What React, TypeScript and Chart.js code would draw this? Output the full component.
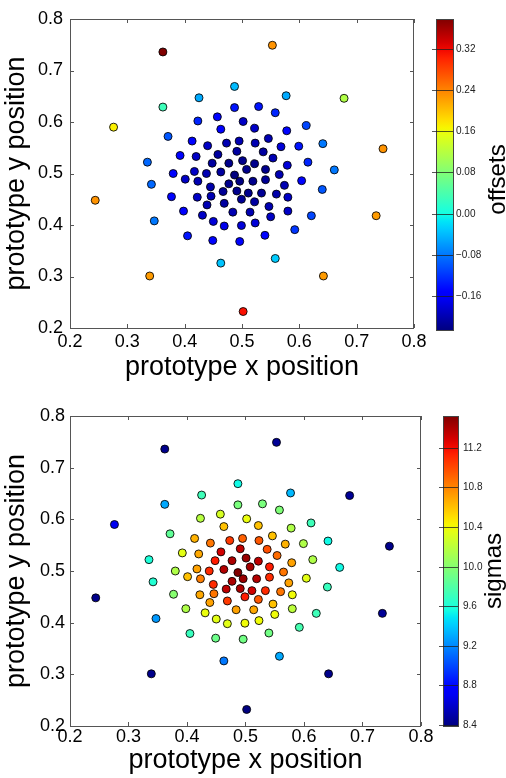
import React, { useEffect, useRef } from 'react';
import { Chart, registerables } from 'chart.js';

Chart.register(...registerables);

const FONT = '"Liberation Sans", Arial, Helvetica, sans-serif';

// prototype positions (shared by both panels)
const POS_X = [
  0.362, 0.553, 0.276, 0.678, 0.746, 0.244, 0.734, 0.339, 0.642, 0.502,
  0.487, 0.425, 0.577, 0.362, 0.335, 0.342, 0.347, 0.463, 0.558, 0.661,
  0.641, 0.640, 0.621, 0.612, 0.592, 0.371,
  0.487, 0.529, 0.558, 0.457, 0.423, 0.502, 0.463, 0.522, 0.578, 0.546,
  0.495, 0.473, 0.523, 0.413, 0.440, 0.568, 0.599, 0.537, 0.491, 0.392,
  0.420, 0.458, 0.554, 0.501, 0.615, 0.448, 0.477, 0.522, 0.579, 0.508,
  0.541, 0.380, 0.417, 0.438, 0.463, 0.487, 0.565, 0.401, 0.423, 0.496,
  0.519, 0.541, 0.604, 0.477, 0.574, 0.445, 0.467, 0.491, 0.511, 0.534,
  0.560, 0.377, 0.422, 0.446, 0.580, 0.499, 0.439, 0.522, 0.469, 0.547,
  0.398, 0.431, 0.484, 0.514, 0.580, 0.550, 0.450, 0.523, 0.469, 0.499,
  0.405, 0.449, 0.496, 0.540,
];
const POS_Y = [
  0.736, 0.749, 0.590, 0.646, 0.548, 0.448, 0.418, 0.301, 0.301, 0.232,
  0.669, 0.647, 0.651, 0.629, 0.522, 0.479, 0.408, 0.326, 0.335, 0.507,
  0.558, 0.469, 0.418, 0.593, 0.391, 0.572,
  0.628, 0.630, 0.618, 0.610, 0.602, 0.601, 0.586, 0.588, 0.583, 0.568,
  0.563, 0.559, 0.559, 0.563, 0.554, 0.552, 0.553, 0.542, 0.543, 0.535,
  0.533, 0.537, 0.530, 0.525, 0.522, 0.520, 0.520, 0.519, 0.516, 0.508,
  0.508, 0.500, 0.504, 0.500, 0.503, 0.497, 0.498, 0.489, 0.485, 0.485,
  0.485, 0.488, 0.486, 0.480, 0.477, 0.474, 0.465, 0.466, 0.462, 0.462,
  0.460, 0.455, 0.454, 0.456, 0.454, 0.450, 0.439, 0.445, 0.442, 0.436,
  0.427, 0.419, 0.425, 0.425, 0.427, 0.416, 0.407, 0.404, 0.398, 0.399,
  0.379, 0.370, 0.368, 0.380,
];
const OFFSETS = [
  0.379, 0.23, 0.17, 0.115, 0.23, 0.23, 0.225, 0.225, 0.225, 0.315,
  -0.04, -0.05, -0.05, 0.03, -0.09, -0.09, -0.08, -0.035, -0.03, -0.08,
  -0.08, -0.10, -0.11, -0.11, -0.12, -0.10,
  -0.14, -0.14, -0.13, -0.15, -0.13, -0.19, -0.16, -0.19, -0.15, -0.20,
  -0.20, -0.20, -0.20, -0.15, -0.19, -0.18, -0.14, -0.21, -0.21, -0.15,
  -0.19, -0.21, -0.20, -0.22, -0.13, -0.21, -0.22, -0.22, -0.18, -0.22,
  -0.22, -0.15, -0.19, -0.20, -0.21, -0.227, -0.20, -0.19, -0.20, -0.225,
  -0.22, -0.215, -0.15, -0.22, -0.20, -0.205, -0.215, -0.22, -0.22, -0.215,
  -0.205, -0.15, -0.19, -0.20, -0.19, -0.215, -0.20, -0.21, -0.21, -0.20,
  -0.16, -0.19, -0.20, -0.20, -0.19, -0.19, -0.18, -0.18, -0.17, -0.18,
  -0.14, -0.15, -0.15, -0.15,
];
const SIGMAS = [
  8.42, 8.45, 8.7, 8.45, 8.42, 8.42, 8.45, 8.42, 8.42, 8.39,
  9.55, 9.72, 9.35, 9.3, 9.6, 9.62, 9.25, 9.15, 9.3, 9.55,
  9.55, 9.7, 9.72, 9.72, 9.75, 9.85,
  9.95, 9.95, 9.97, 10.3, 10.18, 10.38, 10.6, 10.6, 10.15, 10.6,
  10.92, 11.05, 10.95, 10.65, 10.85, 10.65, 10.15, 10.98, 11.35, 10.35,
  10.68, 11.3, 10.88, 11.45, 10.15, 11.15, 11.4, 11.35, 10.7, 11.42,
  11.15, 10.15, 10.7, 11.1, 11.38, 11.52, 10.85, 10.6, 10.82, 11.45,
  11.38, 11.1, 10.35, 11.4, 10.7, 11.1, 11.35, 11.4, 11.3, 11.1,
  10.85, 10.0, 10.68, 10.85, 10.4, 11.15, 10.7, 10.95, 11.05, 10.6,
  10.15, 10.38, 10.7, 10.68, 10.2, 10.4, 10.35, 10.4, 10.35, 10.4,
  9.7, 9.9, 9.92, 9.92,
];

const AXIS_TICKS = [0.2, 0.3, 0.4, 0.5, 0.6, 0.7, 0.8];
const OFFSET_TICKS = [-0.16, -0.08, 0.0, 0.08, 0.16, 0.24, 0.32];
const SIGMA_TICKS = [8.4, 8.8, 9.2, 9.6, 10.0, 10.4, 10.8, 11.2];

const X_TITLE = 'prototype x position';
const Y_TITLE = 'prototype y position';

// matplotlib "jet" colormap
const JET_R: [number, number][] = [[0, 0], [0.35, 0], [0.66, 1], [0.89, 1], [1, 0.5]];
const JET_G: [number, number][] = [[0, 0], [0.125, 0], [0.375, 1], [0.64, 1], [0.91, 0], [1, 0]];
const JET_B: [number, number][] = [[0, 0.5], [0.11, 1], [0.34, 1], [0.65, 0], [1, 0]];

function seg(pts: [number, number][], t: number): number {
  for (let i = 1; i < pts.length; i++) {
    if (t <= pts[i][0]) {
      const [x0, y0] = pts[i - 1];
      const [x1, y1] = pts[i];
      return y0 + ((y1 - y0) * (t - x0)) / (x1 - x0);
    }
  }
  return pts[pts.length - 1][1];
}

function jet(t: number): string {
  const c = Math.max(0, Math.min(1, t));
  const r = Math.round(seg(JET_R, c) * 255);
  const g = Math.round(seg(JET_G, c) * 255);
  const b = Math.round(seg(JET_B, c) * 255);
  return `rgb(${r},${g},${b})`;
}

function fmtTick(v: number, digits: number): string {
  const s = Math.abs(v).toFixed(digits);
  return v < -1e-9 ? '\u2212' + s : s;
}

const framePlugin = {
  id: 'frameAndBar',
  afterDraw(chart: any, _args: any, opts: any) {
    const { ctx, chartArea: a, scales } = chart;
    const xs = scales.x;
    const ys = scales.y;
    ctx.save();
    ctx.strokeStyle = '#555';
    ctx.lineWidth = 1;
    const line = (x1: number, y1: number, x2: number, y2: number) => {
      ctx.beginPath();
      ctx.moveTo(x1, y1);
      ctx.lineTo(x2, y2);
      ctx.stroke();
    };
    const L = 4;
    for (const v of AXIS_TICKS) {
      const px = Math.round(xs.getPixelForValue(v)) + 0.5;
      line(px, a.bottom, px, a.bottom - L);
      line(px, a.top, px, a.top + L);
      const py = Math.round(ys.getPixelForValue(v)) + 0.5;
      line(a.left, py, a.left + L, py);
      line(a.right, py, a.right - L, py);
    }
    ctx.strokeRect(Math.round(a.left) + 0.5, Math.round(a.top) + 0.5,
      Math.round(a.right - a.left) - 1, Math.round(a.bottom - a.top));

    // colorbar
    const values: number[] = opts.values;
    const vmin = Math.min(...values);
    const vmax = Math.max(...values);
    const bl = a.right + opts.gap;
    const br = bl + opts.width;
    const bt = a.top;
    const bb = a.bottom + opts.extraBottom;
    const grad = ctx.createLinearGradient(0, bb, 0, bt);
    for (let i = 0; i <= 40; i++) grad.addColorStop(i / 40, jet(i / 40));
    ctx.fillStyle = grad;
    ctx.fillRect(bl, bt, br - bl, bb - bt);
    ctx.strokeStyle = '#444';
    ctx.strokeRect(Math.round(bl) + 0.5, Math.round(bt) + 0.5, Math.round(br - bl), Math.round(bb - bt));
    const toPx = (v: number) => bb - ((v - vmin) / (vmax - vmin)) * (bb - bt);
    ctx.font = `10px ${FONT}`;
    ctx.fillStyle = '#222';
    ctx.textAlign = 'left';
    ctx.textBaseline = 'middle';
    ctx.strokeStyle = 'rgba(30,30,30,0.75)';
    for (const t of opts.ticks as number[]) {
      const py = Math.round(toPx(t)) + 0.5;
      line(bl - 4, py, br, py);
      ctx.fillText(fmtTick(t, opts.digits), br + opts.labelGap, py);
    }
    ctx.save();
    ctx.translate(opts.titleX, (bt + bb) / 2 + opts.titleDy);
    ctx.rotate(-Math.PI / 2);
    ctx.font = `24px ${FONT}`;
    ctx.fillStyle = '#000';
    ctx.textAlign = 'center';
    ctx.textBaseline = 'alphabetic';
    ctx.fillText(opts.title, 0, 0);
    ctx.restore();
    ctx.restore();
  },
};

type PanelProps = {
  values: number[];
  ticks: number[];
  digits: number;
  title: string;
  padTop: number;
  padRight: number;
  xAxisH: number;
  xTickPad: number;
  xTitlePad: number;
  yTickPad: number;
  barWidth: number;
  barExtraBottom: number;
  labelGap: number;
  titleX: number;
  titleDy: number;
};

function ScatterPanel(p: PanelProps) {
  const ref = useRef<HTMLCanvasElement>(null);
  useEffect(() => {
    const vmin = Math.min(...p.values);
    const vmax = Math.max(...p.values);
    const colors = p.values.map((v) => jet((v - vmin) / (vmax - vmin)));
    const tickFont = { size: 18, family: FONT };
    const titleFont = { size: 27, family: FONT };
    const chart = new Chart(ref.current as HTMLCanvasElement, {
      type: 'scatter',
      data: {
        datasets: [
          {
            data: POS_X.map((x, i) => ({ x, y: POS_Y[i] })),
            backgroundColor: colors,
            borderColor: 'rgba(0,0,0,0.85)',
            borderWidth: 1,
            pointRadius: 4,
            pointHoverRadius: 4,
          },
        ],
      },
      options: {
        responsive: false,
        animation: false,
        events: [],
        layout: { padding: { top: p.padTop, right: p.padRight, left: 0, bottom: 0 } },
        plugins: {
          legend: { display: false },
          tooltip: { enabled: false },
          frameAndBar: {
            values: p.values,
            ticks: p.ticks,
            digits: p.digits,
            title: p.title,
            gap: 22,
            width: p.barWidth,
            extraBottom: p.barExtraBottom,
            labelGap: p.labelGap,
            titleX: p.titleX,
            titleDy: p.titleDy,
          },
        } as any,
        scales: {
          x: {
            type: 'linear',
            min: 0.2,
            max: 0.8,
            afterBuildTicks: (s: any) => {
              s.ticks = AXIS_TICKS.map((v) => ({ value: v }));
            },
            afterFit: (s: any) => {
              s.height = p.xAxisH;
            },
            grid: { display: false, drawTicks: false },
            border: { display: false },
            ticks: {
              padding: p.xTickPad,
              font: tickFont,
              color: '#000',
              maxRotation: 0,
              autoSkip: false,
              callback: (v: any) => Number(v).toFixed(1),
            },
            title: {
              display: true,
              text: X_TITLE,
              font: titleFont,
              color: '#000',
              padding: { top: 0, bottom: p.xTitlePad },
            },
          },
          y: {
            type: 'linear',
            min: 0.2,
            max: 0.8,
            afterBuildTicks: (s: any) => {
              s.ticks = AXIS_TICKS.map((v) => ({ value: v }));
            },
            afterFit: (s: any) => {
              s.width = 70;
            },
            grid: { display: false, drawTicks: false },
            border: { display: false },
            ticks: {
              padding: p.yTickPad,
              font: tickFont,
              color: '#000',
              autoSkip: false,
              callback: (v: any) => Number(v).toFixed(1),
            },
            title: {
              display: true,
              text: Y_TITLE,
              font: titleFont,
              color: '#000',
              padding: { top: 0, bottom: 0 },
            },
          },
        },
      } as any,
      plugins: [framePlugin as any],
    });
    return () => chart.destroy();
  }, []);
  return <canvas ref={ref} width={506} height={389} style={{ display: 'block', width: 506, height: 389 }} />;
}

export default function App() {
  return (
    <div style={{ position: 'absolute', left: 0, top: 0, width: 506, height: 778, background: '#fff' }}>
      <ScatterPanel
        values={OFFSETS}
        ticks={OFFSET_TICKS}
        digits={2}
        title="offsets"
        padTop={19}
        padRight={92}
        xAxisH={61}
        xTickPad={3}
        xTitlePad={5}
        yTickPad={7}
        barWidth={17}
        barExtraBottom={2}
        labelGap={3}
        titleX={505}
        titleDy={5}
      />
      <ScatterPanel
        values={SIGMAS}
        ticks={SIGMA_TICKS}
        digits={1}
        title="sigmas"
        padTop={27}
        padRight={85}
        xAxisH={52}
        xTickPad={0}
        xTitlePad={1}
        yTickPad={5}
        barWidth={15}
        barExtraBottom={0}
        labelGap={5}
        titleX={501}
        titleDy={0}
      />
    </div>
  );
}
